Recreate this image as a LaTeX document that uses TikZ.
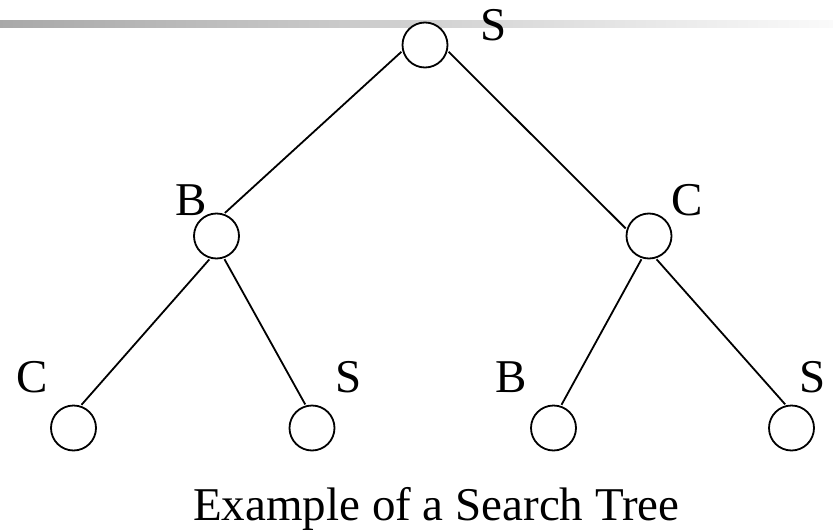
\documentclass[tikz,border=0pt]{standalone}
\usepackage{fontspec}
\setmainfont{Liberation Serif}
\begin{document}
\begin{tikzpicture}[x=1pt,y=-1pt,
  vert/.style={circle,draw,fill=white,line width=1.8pt,minimum size=45pt,inner sep=0pt,outer sep=2pt},
  lab/.style={font=\fontsize{47}{50}\selectfont,inner sep=0pt,anchor=base},
  edge/.style={line width=1.8pt}]
\useasboundingbox (0,0) rectangle (833,530);
\shade[left color=black!34,right color=black!2] (0,20) rectangle (833,27);
\node[vert] (root) at (425,45) {};
\node[vert] (b) at (216.5,236) {};
\node[vert] (c) at (649,236) {};
\node[vert] (lc) at (73.5,428) {};
\node[vert] (ls) at (312,428) {};
\node[vert] (lb) at (553.5,428) {};
\node[vert] (rs) at (791.5,428) {};
\draw[edge] (root.196) -- (b.70);
\draw[edge] (root.344) -- (c.162);
\draw[edge] (b.253) -- (lc.71);
\draw[edge] (b.289) -- (ls.106);
\draw[edge] (c.252) -- (lb.71);
\draw[edge] (c.288) -- (rs.105);
\node[lab] (tS) at (494,40) {S};
\node[lab] (tB) at (191.5,215) {B};
\node[lab] (tC) at (687.5,215) {C};
\node[lab] (tlc) at (32.5,392) {C};
\node[lab] (tls) at (349,392) {S};
\node[lab] (tlb) at (511,392) {B};
\node[lab] (trs) at (812.5,392) {S};
\node[lab,anchor=base west] (cap) at (193,520) {Example of a Search Tree};
\end{tikzpicture}
\end{document}
